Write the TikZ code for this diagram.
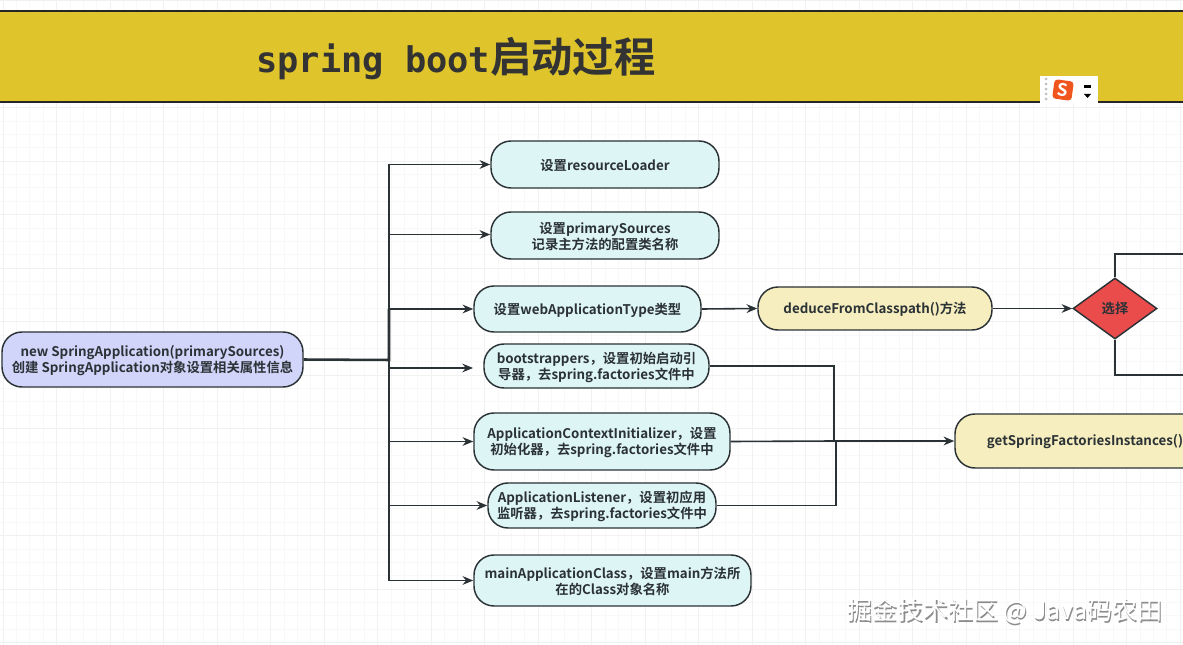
\documentclass[tikz,border=0pt]{standalone}
\usepackage{fontspec}
\setmainfont{Noto Sans CJK SC}[BoldFont={Noto Sans CJK SC Bold}]
\newfontfamily\titlemono{DejaVu Sans Mono}
\usetikzlibrary{shapes.geometric,arrows.meta}
\definecolor{ink}{HTML}{2B3236}
\definecolor{cyanfill}{HTML}{DEF5F5}
\definecolor{violetfill}{HTML}{D2D5FA}
\definecolor{creamfill}{HTML}{F6EEBE}
\definecolor{redfill}{HTML}{EA4C4C}
\definecolor{bandfill}{HTML}{DFC42C}
\definecolor{gridminor}{HTML}{F8F8F8}
\definecolor{gridmajor}{HTML}{F1F1F1}
\tikzset{
  x=0.75pt,y=-0.75pt,
  pill/.style={draw=ink,line width=1.1pt,rounded corners=15pt,inner sep=0pt},
  pilltext/.style={align=center,inner sep=0pt,font=\bfseries\fontsize{10pt}{12pt}\selectfont,text=ink},
  conn/.style={draw=ink,line width=1.2pt},
  arr/.style={conn,-{Stealth[length=8pt,width=6.5pt]}}
}
\newcommand{\pillnode}[7]{% name, x1, y1, x2, y2, fill, text
  \node[pill,fill=#6,minimum width={(#4-#2)*0.75pt},minimum height={(#5-#3)*0.75pt},
    label={[pilltext,yshift=-0.75pt]center:{#7}}] (#1) at ({(#2+#4)/2},{(#3+#5)/2}) {};}
\begin{document}
\begin{tikzpicture}
\useasboundingbox (0,0) rectangle (1183,645);
\clip (0,0) rectangle (1183,645);
\fill[white] (0,0) rectangle (1183,645);
% grid
\foreach \i in {0,...,89} \draw[gridminor,line width=0.5pt] ({3+13.375*\i},0) -- ({3+13.375*\i},645);
\foreach \i in {0,...,49} \draw[gridminor,line width=0.5pt] (0,{0.5+13.375*\i}) -- (1183,{0.5+13.375*\i});
\foreach \i in {0,...,22} \draw[gridmajor,line width=0.7pt] ({3+53.5*\i},0) -- ({3+53.5*\i},645);
\foreach \i in {0,...,12} \draw[gridmajor,line width=0.7pt] (0,{0.5+53.5*\i}) -- (1183,{0.5+53.5*\i});
% title band
\fill[bandfill] (-2,11) rectangle (1185,102);
\draw[black!85,line width=1.2pt] (-2,11) -- (1185,11) (-2,102) -- (1185,102);
\node[anchor=west,inner sep=0pt,text=black!80] (title) at (256,59) {\fontsize{26.5pt}{30pt}\selectfont\titlemono\bfseries spring boot\normalfont\bfseries\fontsize{31pt}{34pt}\selectfont 启动过程};
% input-method toolbar
\fill[white] (1040,76) rectangle (1098,103);
\foreach \yy in {79,84,89,94,99} \fill[black!25] (1046,\yy) circle (1.5);
\node[draw=none,fill={rgb,255:red,240;green,85;blue,30},rounded corners=2.5pt,rotate=-8,minimum size=14.5pt,inner sep=0pt,text=white,font=\bfseries\fontsize{13pt}{13pt}\selectfont] (sogou) at (1063,90) {S};
\fill[black] (1084,85) rectangle (1091,88);
\fill[black] (1084,94) -- (1091,94) -- (1087.5,98) -- cycle;
% nodes
\pillnode{src}{2}{332}{303}{387}{violetfill}{new SpringApplication(primarySources)\\创建 SpringApplication对象设置相关属性信息}
\pillnode{r1}{491}{141}{719}{188}{cyanfill}{设置resourceLoader}
\pillnode{r2}{491}{212}{719}{259}{cyanfill}{设置primarySources\\记录主方法的配置类名称}
\pillnode{r3}{474}{286}{701}{332}{cyanfill}{设置webApplicationType类型}
\pillnode{r4}{484}{344}{709}{388}{cyanfill}{bootstrappers，设置初始启动引\\导器，去spring.factories文件中}
\pillnode{r5}{474}{413}{730}{470}{cyanfill}{ApplicationContextInitializer，设置\\初始化器，去spring.factories文件中}
\pillnode{r6}{488}{483}{716}{528}{cyanfill}{ApplicationListener，设置初应用\\监听器，去spring.factories文件中}
\pillnode{r7}{474}{555}{751}{606}{cyanfill}{mainApplicationClass，设置main方法所\\在的Class对象名称}
\pillnode{ded}{758}{287}{992}{330}{creamfill}{deduceFromClasspath()方法}
\pillnode{gsf}{955}{414}{1215}{468}{creamfill}{getSpringFactoriesInstances()}
\node[diamond,aspect=1.377,draw=ink,line width=1.1pt,fill=redfill,inner sep=0pt,minimum width=63pt,minimum height=45.75pt,font=\fontsize{10pt}{12pt}\selectfont\bfseries,text=ink] (sel) at (1115,308.5) {选择};
% connector free ends
\coordinate (hub) at (389,360);
\coordinate (r4in) at (473,368);
\coordinate (selup) at (1185,254);
\coordinate (seldn) at (1185,375);
\coordinate (fan) at (835,441);
% source to the right-hand column
\draw[conn,line width=1.9pt] (src.east) -- (hub) -- (389,309);
\draw[arr] (hub) |- (r1.west);
\draw[arr] (hub) |- ([yshift=0.75pt]r2.west);
\draw[arr] (hub) |- (r3.west);
\draw[arr] (hub) |- (r4in);
\draw[arr] (hub) |- (r5.west);
\draw[arr] (hub) |- (r6.west);
\draw[arr] (hub) |- (r7.west);
% chain
\draw[arr] (r3.east) -- (ded.west);
\draw[arr] (ded.east) -- (sel.west);
\draw[conn] (sel.north) |- (selup);
\draw[conn] (sel.south) |- (seldn);
% factories
\draw[conn] (r4.east) -- ++(124,0) |- (fan);
\draw[conn] (r6.east) -- ++(119,0) |- (fan);
\draw[conn] (r5.east) -- (fan);
\draw[arr,line width=1.6pt] (fan) -- (gsf.west);
% watermark
\node[anchor=west,inner sep=0pt,text=black!45,font=\fontsize{18.8pt}{22pt}\selectfont] (wms) at (848.6,612.6) {掘金技术社区 @ Java码农田};
\node[anchor=west,inner sep=0pt,text=white,font=\fontsize{18.8pt}{22pt}\selectfont] (wm) at (847.5,611.5) {掘金技术社区 @ Java码农田};
\end{tikzpicture}
\end{document}
